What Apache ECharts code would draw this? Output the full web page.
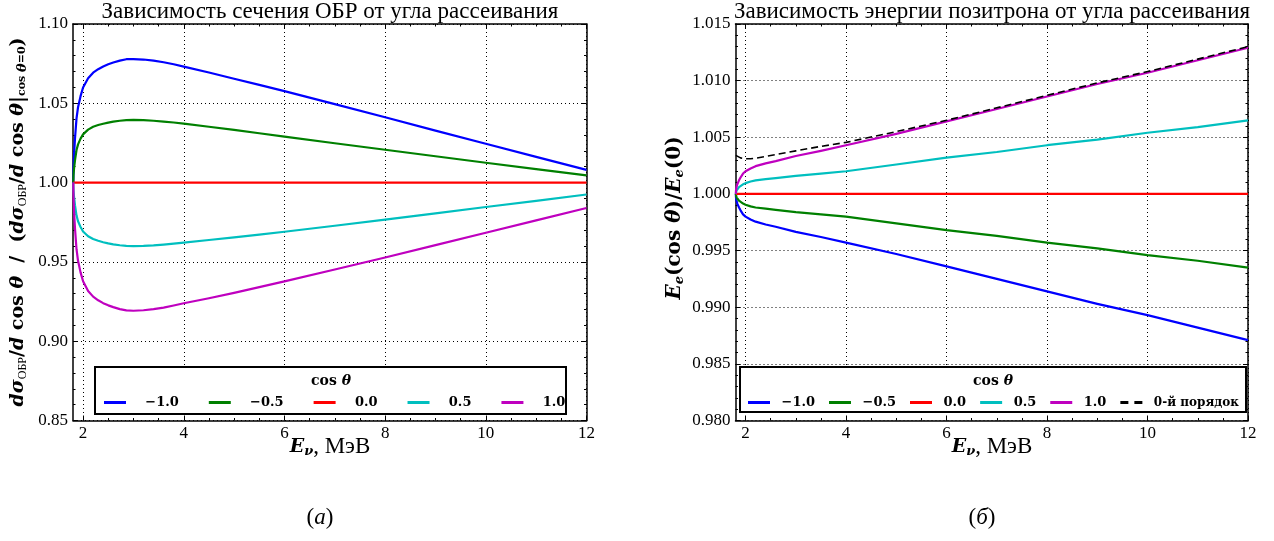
<!DOCTYPE html>
<html><head><meta charset="utf-8">
<script src="https://cdn.jsdelivr.net/npm/echarts@6/dist/echarts.min.js"></script>
<style>html,body{margin:0;padding:0;background:#fff}#c{width:1274px;height:541px}</style>
</head><body><div id="c"></div><script>
// ---------- data ----------
const X_MIN = 1.8, X_MAX = 12;
const X_MAJOR = [2, 4, 6, 8, 10, 12];
const X_MINOR = [2.5, 3, 3.5, 4.5, 5, 5.5, 6.5, 7, 7.5, 8.5, 9, 9.5, 10.5, 11, 11.5];
const COS_NAMES = ['\u22121.0', '\u22120.5', '0.0', '0.5', '1.0'];
const ZERO_NAME = '0-й порядок';

// panel (a): cross-section ratio
const E_A = [1.806, 1.81, 1.82, 1.84, 1.87, 1.9, 1.95, 2.0, 2.1, 2.2, 2.3, 2.4, 2.5, 2.6, 2.73, 2.86, 3.0, 3.2, 3.4, 3.6, 3.8, 4, 4.5, 5, 5.5, 6, 7, 8, 9, 10, 11, 12];
const A_M10 = [1.0000, 1.0093, 1.0171, 1.0280, 1.0405, 1.0475, 1.0545, 1.0600, 1.0658, 1.0693, 1.0715, 1.0732, 1.0746, 1.0757, 1.0769, 1.0778, 1.0779, 1.0776, 1.0769, 1.0759, 1.0746, 1.0731, 1.0694, 1.0655, 1.0616, 1.0577, 1.0495, 1.0412, 1.0328, 1.0245, 1.0162, 1.0080];
const A_M05 = [1.0000, 1.0047, 1.0087, 1.0142, 1.0205, 1.0241, 1.0277, 1.0304, 1.0334, 1.0352, 1.0363, 1.0371, 1.0378, 1.0384, 1.0390, 1.0394, 1.0395, 1.0394, 1.0390, 1.0385, 1.0379, 1.0372, 1.0352, 1.0332, 1.0311, 1.0290, 1.0248, 1.0207, 1.0166, 1.0125, 1.0085, 1.0045];
const A_P00 = E_A.map(() => 1.0);
const A_P05 = [1.0000, 0.9952, 0.9912, 0.9856, 0.9792, 0.9756, 0.9720, 0.9692, 0.9662, 0.9644, 0.9633, 0.9624, 0.9617, 0.9611, 0.9605, 0.9601, 0.9600, 0.9601, 0.9604, 0.9609, 0.9615, 0.9622, 0.9638, 0.9655, 0.9672, 0.9690, 0.9728, 0.9767, 0.9806, 0.9846, 0.9885, 0.9925];
const A_P10 = [1.0000, 0.9903, 0.9822, 0.9709, 0.9580, 0.9507, 0.9434, 0.9378, 0.9317, 0.9281, 0.9258, 0.9240, 0.9226, 0.9215, 0.9202, 0.9194, 0.9192, 0.9195, 0.9202, 0.9212, 0.9225, 0.9239, 0.9271, 0.9305, 0.9341, 0.9377, 0.9452, 0.9528, 0.9606, 0.9684, 0.9762, 0.9840];

// panel (б): positron energy ratio
const E_B = [1.806, 1.81, 1.82, 1.84, 1.87, 1.9, 1.95, 2.0, 2.1, 2.2, 2.4, 2.6, 3.0, 3.5, 4, 5, 6, 7, 8, 9, 10, 11, 12];
const B_M10 = [1.0000, 0.9997, 0.9994, 0.9991, 0.9988, 0.99855, 0.9982, 0.9980, 0.99775, 0.99755, 0.9973, 0.9971, 0.99665, 0.9962, 0.9957, 0.9947, 0.9936, 0.9925, 0.9914, 0.9903, 0.9893, 0.9882, 0.9871];
const B_M05 = [1.0000, 0.99985, 0.9997, 0.99955, 0.9994, 0.9993, 0.99915, 0.99905, 0.9989, 0.9988, 0.9987, 0.9986, 0.9984, 0.9982, 0.9980, 0.9974, 0.9968, 0.9963, 0.9957, 0.9952, 0.9946, 0.9941, 0.9935];
const B_P00 = E_B.map(() => 1.0);
const B_P05 = [1.0000, 1.00015, 1.0003, 1.00045, 1.0006, 1.0007, 1.00085, 1.00095, 1.0011, 1.0012, 1.0013, 1.0014, 1.0016, 1.0018, 1.0020, 1.0026, 1.0032, 1.0037, 1.0043, 1.0048, 1.0054, 1.0059, 1.0065];
const B_P10 = [1.0000, 1.0003, 1.0006, 1.0009, 1.0012, 1.00145, 1.0018, 1.0020, 1.00225, 1.00245, 1.0027, 1.0029, 1.00335, 1.0038, 1.0043, 1.0053, 1.0064, 1.0075, 1.0086, 1.0097, 1.0107, 1.0118, 1.0129];
const E_ZERO = [1.806, 1.9, 2.0, 2.1, 2.2, 2.4, 2.6, 3.0, 3.5, 4, 5, 6, 7, 8, 9, 10, 11, 12];
const B_ZERO = [1.0034, 1.00318, 1.0031, 1.0031, 1.00315, 1.0033, 1.00348, 1.0038, 1.0042, 1.00455, 1.0055, 1.0065, 1.0076, 1.0087, 1.0098, 1.0108, 1.0119, 1.0130];

const Y_A = {min: 0.85, max: 1.10, interval: 0.05, dec: 2};
const Y_B = {min: 0.980, max: 1.015, interval: 0.005, dec: 3};

// ---------- styling ----------
const FONT = 'Liberation Serif';
const MATH = 'DejaVu Serif';
const COLORS = ['#0000ff', '#008000', '#ff0000', '#00bfbf', '#bf00bf'];
const BLACK = '#000';

function xAxes(g) {
  const line = {onZero: false, lineStyle: {color: BLACK, width: 1.5}};
  const base = {type: 'value', gridIndex: g, min: X_MIN, max: X_MAX, axisLine: line};
  const tickMaj = {inside: true, length: 5, customValues: X_MAJOR, lineStyle: {color: BLACK, width: 1}};
  const tickMin = {inside: true, length: 2.5, customValues: X_MINOR, lineStyle: {color: BLACK, width: 1}};
  return [
    Object.assign({}, base, {position: 'bottom', axisTick: tickMaj,
      axisLabel: {customValues: X_MAJOR, color: BLACK, fontFamily: FONT, fontSize: 17, margin: 5},
      splitLine: {show: true, lineStyle: {type: [1, 3], color: BLACK, width: 1}}}),
    Object.assign({}, base, {position: 'top', axisTick: tickMaj, axisLabel: {show: false}, splitLine: {show: false}}),
    Object.assign({}, base, {position: 'bottom', axisLine: {show: false, onZero: false}, axisTick: tickMin, axisLabel: {show: false}, splitLine: {show: false}}),
    Object.assign({}, base, {position: 'top', axisLine: {show: false, onZero: false}, axisTick: tickMin, axisLabel: {show: false}, splitLine: {show: false}})
  ];
}
function yAxes(g, y) {
  const base = {type: 'value', gridIndex: g, min: y.min, max: y.max, interval: y.interval,
    axisLine: {onZero: false, lineStyle: {color: BLACK, width: 1.5}},
    axisTick: {inside: true, length: 5, lineStyle: {color: BLACK, width: 1}},
    minorTick: {show: true, splitNumber: 5, length: 2.5, lineStyle: {color: BLACK, width: 1}}};
  return [
    Object.assign({}, base, {position: 'left',
      axisLabel: {formatter: v => v.toFixed(y.dec), color: BLACK, fontFamily: FONT, fontSize: 17, margin: 5},
      splitLine: {show: true, lineStyle: {type: [1, 3], color: BLACK, width: 1}}}),
    Object.assign({}, base, {position: 'right', axisLabel: {show: false}, splitLine: {show: false}})
  ];
}
function lineSeries(name, xs, ys, color, xi, yi, extra) {
  return Object.assign({
    type: 'line', name: name, xAxisIndex: xi, yAxisIndex: yi,
    data: xs.map((x, i) => [x, ys[i]]),
    showSymbol: false, symbol: 'none', smooth: false,
    color: color, lineStyle: {color: color, width: 2.2, join: 'round'}, z: 2, animation: false
  }, extra || {});
}

const A_SETS = [A_M10, A_M05, A_P00, A_P05, A_P10];
const B_SETS = [B_M10, B_M05, B_P00, B_P05, B_P10];
const series = [];
A_SETS.forEach((s, i) => series.push(lineSeries(COS_NAMES[i], E_A, s, COLORS[i], 0, 0)));
B_SETS.forEach((s, i) => series.push(lineSeries(COS_NAMES[i], E_B, s, COLORS[i], 4, 2)));
series.push(lineSeries(ZERO_NAME, E_ZERO, B_ZERO, BLACK, 4, 2, {lineStyle: {color: BLACK, width: 1.6, type: [7, 4]}, z: 3}));

const legendText = {color: BLACK, fontFamily: MATH, fontSize: 13, fontWeight: 'bold',
  rich: {s: {fontFamily: MATH, fontSize: 12, fontWeight: 'bold', color: BLACK}}};
const DASH_ICON = 'path://M0,0h8v2h-8zM14,0h8v2h-8z';

const rich = {
  i: {fontFamily: MATH, fontSize: 19, fontWeight: 'bold', fontStyle: 'italic', fill: BLACK},
  r: {fontFamily: MATH, fontSize: 19, fontWeight: 'bold', fill: BLACK},
  i2: {fontFamily: MATH, fontSize: 20, fontWeight: 'bold', fontStyle: 'italic', fill: BLACK},
  r2: {fontFamily: MATH, fontSize: 20, fontWeight: 'bold', fill: BLACK},
  n: {fontFamily: FONT, fontSize: 23, fill: BLACK},
  s: {fontFamily: FONT, fontSize: 12, fill: BLACK, padding: [9, 0, 0, 0]},
  sb: {fontFamily: MATH, fontSize: 11, fontWeight: 'bold', fill: BLACK, padding: [9, 0, 0, 0]},
  si: {fontFamily: MATH, fontSize: 13, fontWeight: 'bold', fontStyle: 'italic', fill: BLACK, padding: [9, 0, 0, 0]},
  lt: {fontFamily: MATH, fontSize: 14, fontWeight: 'bold', fill: BLACK},
  li: {fontFamily: MATH, fontSize: 14, fontWeight: 'bold', fontStyle: 'italic', fill: BLACK},
  cp: {fontFamily: FONT, fontSize: 23, fill: BLACK},
  ci: {fontFamily: FONT, fontSize: 23, fontStyle: 'italic', fill: BLACK}
};
function txt(x, y, text, extra) {
  return Object.assign({type: 'text', x: x, y: y, z: 10,
    style: {text: text, rich: rich, fill: BLACK, align: 'center', verticalAlign: 'middle'}}, extra || {});
}
function plain(x, y, text, size) {
  return {type: 'text', x: x, y: y, z: 10,
    style: {text: text, fill: BLACK, fontFamily: FONT, fontSize: size, align: 'center', verticalAlign: 'middle'}};
}

const option = {
  backgroundColor: '#fff',
  animation: false,
  grid: [
    {left: 73, top: 24, width: 513.5, height: 396.5},
    {left: 735.5, top: 24, width: 512.5, height: 396.5}
  ],
  xAxis: xAxes(0).concat(xAxes(1)),
  yAxis: yAxes(0, Y_A).concat(yAxes(1, Y_B)),
  legend: [
    {left: 104, top: 396, padding: 0, orient: 'horizontal', itemWidth: 22, itemHeight: 3, itemGap: 30,
      symbolKeepAspect: false, selectedMode: false, itemStyle: {borderWidth: 0},
      data: COS_NAMES.map(n => ({name: n, icon: 'rect'})),
      formatter: n => '\u2003\u200a' + n, textStyle: legendText, z: 12},
    {left: 748, top: 396, padding: 0, orient: 'horizontal', itemWidth: 22, itemHeight: 3, itemGap: 14,
      symbolKeepAspect: false, selectedMode: false, itemStyle: {borderWidth: 0},
      data: COS_NAMES.map(n => ({name: n, icon: 'rect'})).concat([{name: ZERO_NAME, icon: DASH_ICON}]),
      formatter: n => n === ZERO_NAME ? '\u2002{s|' + n + '}' : '\u2002' + n, textStyle: legendText, z: 12}
  ],
  graphic: {elements: [
    {type: 'rect', z: 8, shape: {x: 95, y: 367, width: 471, height: 47}, style: {fill: '#fff', stroke: BLACK, lineWidth: 2}},
    {type: 'rect', z: 8, shape: {x: 740, y: 367, width: 506, height: 45}, style: {fill: '#fff', stroke: BLACK, lineWidth: 2}},
    txt(331, 381, '{lt|cos }{li|θ}'),
    txt(993, 381, '{lt|cos }{li|θ}'),
    plain(330, 12, 'Зависимость сечения ОБР от угла рассеивания', 23),
    plain(992, 12, 'Зависимость энергии позитрона от угла рассеивания', 23),
    txt(330, 447, '{i|E}{si|ν}{n|, МэВ}'),
    txt(992, 447, '{i|E}{si|ν}{n|, МэВ}'),
    txt(18, 222, '{i|dσ}{s|ОБР}{r|/}{i|d}{r| cos }{i|θ}{r|  /  (}{i|dσ}{s|ОБР}{r|/}{i|d}{r| cos }{i|θ}{r||}{sb|cos }{si|θ}{sb|=0}{r|)}', {rotation: Math.PI / 2}),
    txt(675, 218, '{i2|E}{si|e}{r2|(cos }{i2|θ}{r2|)/}{i2|E}{si|e}{r2|(0)}', {rotation: Math.PI / 2}),
    txt(320, 518, '{cp|(}{ci|a}{cp|)}'),
    txt(982, 518, '{cp|(}{ci|б}{cp|)}')
  ]},
  series: series
};
const chart = echarts.init(document.getElementById('c'), null, {renderer: 'canvas'});
chart.setOption(option);
</script></body></html>
